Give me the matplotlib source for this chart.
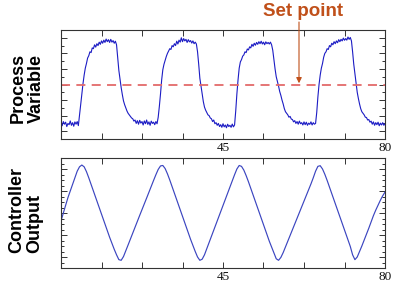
import numpy as np
import matplotlib
matplotlib.use("Agg")
import matplotlib.pyplot as plt
from matplotlib.ticker import FixedLocator, FixedFormatter, MultipleLocator, NullFormatter

# ---------------- data ----------------
T_START, T_END = 10.0, 80.0
PV_STEP, CO_STEP = 0.25, 0.5
SETPOINT = 3.0

process_variable = [
    0.55, 0.35, 0.62, 0.45, 0.58, 0.30, 0.50, 0.42, 0.66, 0.38, 0.55, 0.32, 0.60, 0.45, 0.62, 0.36, 1.00, 1.70, 2.40, 3.05,
    3.60, 4.05, 4.35, 4.70, 4.85, 5.10, 5.05, 5.35, 5.30, 5.55, 5.40, 5.62, 5.50, 5.72, 5.58, 5.80, 5.65, 5.85, 5.70, 5.92,
    5.75, 5.88, 5.70, 5.90, 5.72, 5.82, 5.65, 5.78, 5.55, 4.70, 3.90, 3.35, 2.80, 2.35, 1.95, 1.70, 1.50, 1.30, 1.15, 1.05,
    0.95, 0.85, 0.80, 0.65, 0.72, 0.50, 0.68, 0.45, 0.70, 0.52, 0.62, 0.40, 0.66, 0.48, 0.72, 0.44, 0.60, 0.38, 0.65, 0.50,
    0.58, 0.42, 0.62, 0.48, 0.90, 1.60, 2.40, 3.30, 3.95, 4.30, 4.55, 4.80, 5.00, 5.15, 5.30, 5.25, 5.50, 5.42, 5.62, 5.50,
    5.78, 5.60, 5.85, 5.72, 6.00, 5.75, 5.95, 5.80, 5.90, 5.70, 5.88, 5.74, 5.82, 5.66, 5.80, 5.62, 5.72, 5.60, 5.10, 4.30,
    3.40, 2.90, 2.40, 1.90, 1.55, 1.35, 1.20, 1.05, 1.00, 0.85, 0.80, 0.62, 0.72, 0.48, 0.55, 0.38, 0.50, 0.30, 0.42, 0.25,
    0.48, 0.28, 0.40, 0.22, 0.45, 0.30, 0.38, 0.25, 0.46, 0.28, 0.40, 1.30, 2.40, 3.30, 4.05, 4.45, 4.60, 4.82, 4.90, 5.10,
    5.05, 5.28, 5.22, 5.42, 5.35, 5.58, 5.45, 5.65, 5.52, 5.70, 5.58, 5.75, 5.62, 5.78, 5.60, 5.72, 5.55, 5.74, 5.62, 5.70,
    5.60, 5.72, 5.55, 5.20, 4.60, 4.00, 3.50, 3.20, 2.90, 2.55, 2.30, 2.00, 1.75, 1.45, 1.25, 1.15, 1.05, 0.90, 0.95, 0.78,
    0.75, 0.60, 0.68, 0.50, 0.62, 0.45, 0.65, 0.48, 0.55, 0.40, 0.60, 0.42, 0.58, 0.38, 0.52, 0.44, 0.60, 0.40, 0.55, 0.45,
    0.50, 1.20, 2.20, 3.00, 3.60, 4.05, 4.35, 4.75, 5.00, 5.10, 5.30, 5.25, 5.50, 5.42, 5.65, 5.55, 5.75, 5.62, 5.80, 5.68,
    5.88, 5.75, 5.90, 5.80, 5.98, 5.84, 5.95, 5.85, 6.05, 5.90, 6.02, 5.80, 5.10, 4.30, 3.70, 3.05, 2.50, 2.10, 1.75, 1.45,
    1.25, 1.15, 1.05, 0.90, 0.88, 0.72, 0.75, 0.58, 0.65, 0.45, 0.60, 0.38, 0.55, 0.42, 0.58, 0.35, 0.52, 0.40, 0.55, 0.38,
    0.48,
]

controller_output = [
    1.64, 2.00, 2.35, 2.70, 3.00, 3.30, 3.60, 3.90, 4.10, 4.18,
    4.10, 3.88, 3.60, 3.30, 3.00, 2.70, 2.40, 2.10, 1.80, 1.50,
    1.20, 0.90, 0.62, 0.35, 0.10, -0.12, -0.15, 0.02, 0.28, 0.55,
    0.82, 1.09, 1.36, 1.62, 1.89, 2.15, 2.42, 2.68, 2.95, 3.21,
    3.48, 3.74, 3.98, 4.14, 4.16, 4.02, 3.78, 3.50, 3.20, 2.90,
    2.60, 2.30, 2.00, 1.70, 1.40, 1.10, 0.80, 0.52, 0.25, 0.00,
    -0.15, -0.10, 0.10, 0.38, 0.66, 0.94, 1.22, 1.50, 1.78, 2.06,
    2.34, 2.62, 2.90, 3.18, 3.46, 3.74, 4.00, 4.16, 4.12, 3.95,
    3.70, 3.42, 3.12, 2.82, 2.52, 2.22, 1.92, 1.62, 1.32, 1.02,
    0.72, 0.45, 0.18, -0.08, -0.15, -0.02, 0.20, 0.46, 0.72, 0.98,
    1.24, 1.50, 1.76, 2.02, 2.28, 2.54, 2.80, 3.06, 3.32, 3.60,
    3.90, 4.12, 4.15, 4.00, 3.76, 3.48, 3.18, 2.88, 2.58, 2.28,
    1.98, 1.68, 1.38, 1.08, 0.78, 0.48, 0.10, -0.12, 0.00, 0.25,
    0.50, 0.77, 1.04, 1.31, 1.60, 1.88, 2.13, 2.36, 2.58, 2.78,
    2.95,
]

x_tick_values = [10, 18.75, 27.5, 36.25, 45, 53.75, 62.5, 71.25, 80]
x_tick_labels = ["", "", "", "", "45", "", "", "", "80"]

pv_time = np.arange(T_START, T_END + PV_STEP / 2, PV_STEP)
co_time = np.arange(T_START, T_END + CO_STEP / 2, CO_STEP)

# ---------------- figure ----------------
W, H = 400, 289
fig = plt.figure(figsize=(W / 100, H / 100), dpi=100)

def px_axes(left, top, right, bottom):
    return fig.add_axes([left / W, 1 - bottom / H, (right - left) / W, (bottom - top) / H])

ax1 = px_axes(61, 30, 385, 139)
ax2 = px_axes(61, 158, 385, 268)

spine_col = "#333333"
for ax in (ax1, ax2):
    ax.set_xlim(T_START, T_END)
    ax.xaxis.set_major_locator(FixedLocator(x_tick_values))
    ax.xaxis.set_major_formatter(FixedFormatter(x_tick_labels))
    ax.tick_params(axis="both", which="both", direction="in", top=True, right=True,
                   color=spine_col, width=0.7)
    ax.tick_params(axis="x", which="major", length=4.5, pad=2.5,
                   labelsize=9.5, labelcolor="#111111")
    ax.tick_params(axis="y", which="major", length=4.5, labelleft=False)
    ax.tick_params(axis="y", which="minor", length=2.2)
    for lab in ax.get_xticklabels():
        lab.set_fontfamily("Liberation Serif")
    for s in ax.spines.values():
        s.set_color(spine_col)
        s.set_linewidth(0.8)

ax1.set_ylim(-0.5, 6.5)
ax1.yaxis.set_major_locator(MultipleLocator(1))
ax1.yaxis.set_minor_locator(MultipleLocator(0.5))
ax1.yaxis.set_minor_formatter(NullFormatter())
ax1.plot(pv_time, process_variable, color="#1C1CC4", lw=0.8)
ax1.axhline(SETPOINT, color="#E36A6A", lw=1.3, linestyle=(0, (5, 3.5)))

ax2.set_ylim(-0.5, 4.5)
ax2.yaxis.set_major_locator(MultipleLocator(1))
ax2.yaxis.set_minor_locator(MultipleLocator(0.25))
ax2.yaxis.set_minor_formatter(NullFormatter())
ax2.plot(co_time, controller_output, color="#3B45C0", lw=0.85)

# y labels
fig.text(27 / W, 1 - 123 / H, "Process\nVariable", rotation=90, ha="center", va="bottom",
         multialignment="left", fontsize=13, fontweight="bold",
         family="Liberation Sans", linespacing=1.1)
fig.text(26 / W, 1 - 253 / H, "Controller\nOutput", rotation=90, ha="center", va="bottom",
         multialignment="left", fontsize=13, fontweight="bold",
         family="Liberation Sans", linespacing=1.1)

# set point annotation
sp_col = "#C0501A"
fig.text(303 / W, 1 - 11 / H, "Set point", ha="center", va="center", fontsize=13.5,
         fontweight="bold", family="Liberation Sans", color=sp_col)
arrow_t = T_START + (299 - 61) / (324 / (T_END - T_START))
ax1.annotate("", xy=(arrow_t, SETPOINT + 0.08), xycoords="data",
             xytext=(arrow_t, H - 22), textcoords=("data", "figure pixels"),
             arrowprops=dict(arrowstyle="-|>", color=sp_col, lw=0.8,
                             mutation_scale=8, shrinkA=0, shrinkB=0))

fig.savefig("out.png", dpi=100)
